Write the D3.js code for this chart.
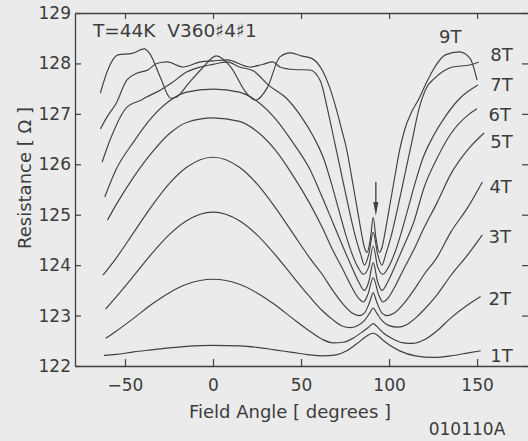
<!DOCTYPE html>
<html><head><meta charset="utf-8">
<script src="https://cdn.jsdelivr.net/npm/d3@7"></script>
<style>body{margin:0;background:#ebebeb} svg{display:block}</style>
</head><body><svg id="c" width="528" height="441"></svg>
<script>
// ---- data ----
const xTicks = [-50, 0, 50, 100, 150];
const yTicks = [122, 123, 124, 125, 126, 127, 128, 129];
const fieldLabels = ["1T","2T","3T","4T","5T","6T","7T","8T","9T"];

const ang1T = [-62,-55,-45,-35,-25,-15,0,15,25,35,45,55,62,70,76,82,86,89,91,93,96,100,106,115,125,135,145,152];
const res1T = [122.21,122.23,122.28,122.32,122.36,122.39,122.41,122.40,122.37,122.32,122.27,122.22,122.20,122.22,122.30,122.45,122.56,122.63,122.65,122.62,122.53,122.42,122.30,122.20,122.17,122.20,122.26,122.30];

const ang2T = [-61,-55,-45,-35,-25,-15,0,15,25,35,45,55,62,68,74,80,85,88,91,94,97,102,108,114,120,128,135,145,152];
const res2T = [122.55,122.69,122.95,123.22,123.45,123.62,123.72,123.62,123.45,123.22,122.95,122.69,122.53,122.46,122.47,122.56,122.68,122.76,122.84,122.75,122.65,122.54,122.46,122.45,122.52,122.72,122.95,123.22,123.38];

const ang3T = [-61,-55,-45,-35,-25,-15,0,15,25,35,45,55,62,68,73,78,82,86,89,91,93,96,100,105,110,115,120,127,135,145,153];
const res3T = [123.13,123.37,123.79,124.22,124.60,124.88,125.05,124.88,124.60,124.22,123.79,123.37,123.10,122.92,122.80,122.76,122.80,122.90,123.05,123.15,123.05,122.90,122.80,122.77,122.82,122.95,123.12,123.40,123.79,124.22,124.60];

const ang4T = [-62.5,-55,-45,-35,-25,-15,0,15,25,35,45,55,62,68,74,79,83,86,89,91,93,96,99,103,108,114,120,127,135,145,153];
const res4T = [123.80,124.14,124.65,125.16,125.61,125.94,126.14,125.94,125.61,125.16,124.65,124.14,123.82,123.50,123.22,123.05,123.00,123.05,123.27,123.45,123.27,123.05,123.00,123.05,123.22,123.50,123.82,124.14,124.65,125.16,125.65];

const ang5T = [-60,-55,-45,-35,-25,-15,0,15,25,35,45,55,62,68,74,79,83,85.5,88,91,94,96.5,99,103,108,114,120,127,135,145,154];
const res5T = [124.89,125.20,125.75,126.22,126.60,126.83,126.92,126.85,126.65,126.30,125.80,125.22,124.75,124.30,123.90,123.55,123.33,123.27,123.42,123.75,123.42,123.27,123.33,123.55,123.90,124.30,124.75,125.22,125.80,126.30,126.62];

const ang6T = [-61.5,-55,-45,-35,-25,-15,0,15,25,35,45,55,62,68,74,79,83,86,88.5,91,93.5,96,99,103,108,114,120,127,135,145,150];
const res6T = [125.35,125.90,126.45,126.92,127.25,127.43,127.49,127.43,127.25,126.92,126.45,125.90,125.35,124.85,124.35,123.95,123.65,123.50,123.67,124.05,123.67,123.50,123.65,123.95,124.35,124.85,125.55,126.10,126.60,126.98,127.10];

const ang7T = [-63,-58.5,-49,-41,-38,-30,-24,-15,-7,0,8,15,23,31.5,42,50,57,63,67,71,75,79,82.5,85.5,88.5,91,93.5,96.5,99.5,103,107,111,115,119,125,132,140,150.5];
const res7T = [126.04,126.48,127.13,127.27,127.33,127.47,127.60,127.83,127.93,127.98,128.03,127.93,127.85,127.57,127.30,126.95,126.55,126.10,125.65,125.15,124.65,124.22,123.95,123.82,123.97,124.38,123.97,123.82,123.95,124.22,124.65,125.15,125.65,126.10,126.55,126.95,127.30,127.57];

const ang8T = [-64,-60,-55,-49,-43,-37,-32,-26,-17,-7,0,8,21,28,34,38,46,55,61,65,69,73,77,81,84,86,88.5,91,93.5,96,98,101,105,109,113,117,121,126,131,136,146,151];
const res8T = [126.70,126.95,127.21,127.67,127.81,127.87,128.00,128.03,127.93,128.03,128.05,128.07,127.93,127.98,128.03,127.93,127.88,127.87,127.65,127.10,126.45,125.80,125.15,124.55,124.20,124.00,124.22,124.65,124.22,124.00,124.20,124.55,125.15,125.80,126.45,127.10,127.50,127.71,127.85,127.93,127.97,128.03];

const ang9T = [-64,-60,-54,-46,-39,-36,-30,-24,-21,-14,-7,2,10,19,24,31,38,44,50,56,62,66,70,73,76,79,82,84,86,87.5,89.5,91,92.5,94.5,96,98,100,103,106,109,113,117,121,125,132,140,146,150];
const res9T = [127.41,127.85,128.17,128.20,128.29,128.20,127.73,127.31,127.33,127.60,127.87,128.15,127.93,127.41,127.27,127.53,128.13,128.21,128.15,128.10,127.87,127.55,127.10,126.70,126.28,125.70,125.10,124.70,124.35,124.25,124.55,124.95,124.55,124.25,124.35,124.70,125.10,125.70,126.28,126.70,127.05,127.30,127.60,127.87,128.17,128.23,128.10,127.67];

const angleSets = [ang1T, ang2T, ang3T, ang4T, ang5T, ang6T, ang7T, ang8T, ang9T];
const resSets   = [res1T, res2T, res3T, res4T, res5T, res6T, res7T, res8T, res9T];
// label anchor positions (data units)
const labelY    = [122.08, 123.21, 124.44, 125.43, 126.32, 126.86, 127.45, 128.05, 128.40];
const labelX    = [157.5, 156.5, 156.5, 157, 157.5, 156.5, 157.5, 157.5, 128.4];

// ---- drawing ----
const svg = d3.select("#c");
const ink = "#404040";
const txt = "#3c3c3c";
svg.append("rect").attr("width",528).attr("height",441).attr("fill","#ebebeb");

const x = d3.scaleLinear().domain([-78.4, 179.5]).range([75, 529]);
const y = d3.scaleLinear().domain([122, 129]).range([366, 13]);

const font = "DejaVu Sans, sans-serif";

function styleAxis(g){
  g.selectAll("path.domain").attr("stroke", ink).attr("stroke-width", 1.3);
  g.selectAll(".tick line").attr("stroke", ink).attr("stroke-width", 1.2);
  g.selectAll(".tick text").attr("fill", txt).attr("font-family", font).attr("font-size", 17);
}

svg.append("g").attr("transform","translate(0,366)")
  .call(d3.axisBottom(x).tickValues(xTicks).tickFormat(d3.format("d")).tickSizeInner(-7).tickSizeOuter(0).tickPadding(13))
  .call(styleAxis);
svg.append("g").attr("transform","translate(0,13)")
  .call(d3.axisTop(x).tickValues(xTicks).tickSizeInner(-6).tickSizeOuter(0).tickFormat(""))
  .call(styleAxis);
svg.append("g").attr("transform","translate(75,0)")
  .call(d3.axisLeft(y).tickValues(yTicks).tickFormat(d3.format("d")).tickSizeInner(-6).tickSizeOuter(0).tickPadding(4))
  .call(styleAxis);
svg.append("g").attr("transform","translate(529,0)")
  .call(d3.axisRight(y).tickValues(yTicks).tickSizeInner(-7).tickSizeOuter(0).tickFormat(""))
  .call(styleAxis);

const line = d3.line().x(d => x(d[0])).y(d => y(d[1])).curve(d3.curveMonotoneX);
angleSets.forEach((angs, i) => {
  const pts = angs.map((a, j) => [a, resSets[i][j]]);
  svg.append("path").attr("d", line(pts)).attr("fill","none")
    .attr("stroke", ink).attr("stroke-width", 1.15);
});

// field labels
fieldLabels.forEach((t, i) => {
  svg.append("text").attr("x", x(labelX[i])).attr("y", y(labelY[i]))
    .attr("font-family", font).attr("font-size", 18).attr("fill", txt).text(t);
});

// arrow at the cusp
const ax = x(92.5);
svg.append("line").attr("x1", ax).attr("x2", ax).attr("y1", y(125.65)).attr("y2", y(125.1))
  .attr("stroke", ink).attr("stroke-width", 1.3);
svg.append("path")
  .attr("d", `M${ax-2.5},${y(125.25)} L${ax+2.5},${y(125.25)} L${ax},${y(124.98)} Z`)
  .attr("fill", ink);

// texts
svg.append("text").attr("x", 93).attr("y", 37).attr("font-family", font).attr("font-size", 18.5)
  .attr("fill", txt).style("white-space","pre").text("T=44K  V360♯4♯1");
svg.append("text").attr("x", 290).attr("y", 418).attr("text-anchor","middle")
  .attr("font-family", font).attr("font-size", 18).attr("fill", txt).text("Field Angle [ degrees ]");
svg.append("text").attr("transform","translate(31,178) rotate(-90)").attr("text-anchor","middle")
  .attr("font-family", font).attr("font-size", 18).attr("fill", txt).text("Resistance [ Ω ]");
svg.append("text").attr("x", 467).attr("y", 435).attr("text-anchor","middle")
  .attr("font-family", font).attr("font-size", 17).attr("fill", txt).text("010110A");
</script></body></html>
